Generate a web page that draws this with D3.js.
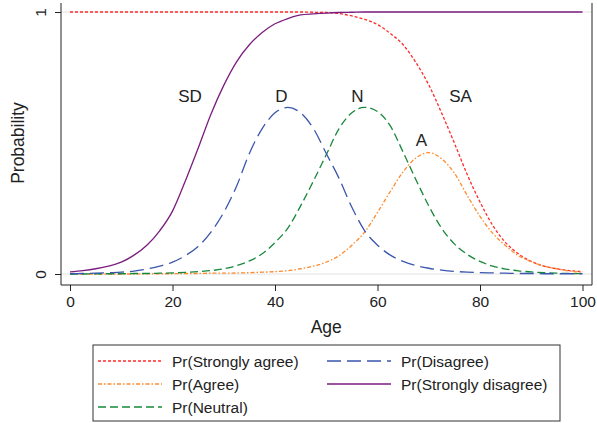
<!DOCTYPE html>
<html>
<head>
<meta charset="utf-8">
<script src="https://cdn.jsdelivr.net/npm/d3@7"></script>
<style>
  html, body { margin: 0; padding: 0; background: #fff; }
  svg { display: block; font-family: "Liberation Sans", Arial, sans-serif; }
</style>
</head>
<body>
<svg id="chart" width="597" height="423"></svg>
<script>
// Predicted probabilities of each response category by age
const ages = [0, 2.5, 5, 7.5, 10, 12.5, 15, 17.5, 20, 22.5, 25, 27.5, 30, 32.5, 35, 37.5, 40, 42.5, 45, 47.5,
              50, 52.5, 55, 57.5, 60, 62.5, 65, 67.5, 70, 72.5, 75, 77.5, 80, 82.5, 85, 87.5, 90, 92.5, 95, 97.5, 100];

const prStronglyAgree = [1, 1, 1, 1, 1, 1, 1, 1, 1, 1, 1, 1, 1, 1, 1, 1, 1, 1, 1, 0.999,
  0.998, 0.994, 0.985, 0.972, 0.952, 0.918, 0.875, 0.807, 0.722, 0.615, 0.50, 0.38, 0.275, 0.185, 0.12, 0.077, 0.048, 0.03, 0.02, 0.013, 0.009];

const prAgree = [0, 0, 0, 0, 0, 0, 0.001, 0.001, 0.001, 0.002, 0.002, 0.003, 0.003, 0.004, 0.005, 0.007, 0.009, 0.013, 0.02, 0.03,
  0.045, 0.07, 0.11, 0.16, 0.235, 0.315, 0.39, 0.443, 0.463, 0.44, 0.385, 0.30, 0.22, 0.155, 0.108, 0.07, 0.047, 0.03, 0.02, 0.011, 0.007];

const prNeutral = [0, 0, 0.001, 0.001, 0.001, 0.002, 0.002, 0.003, 0.004, 0.006, 0.009, 0.013, 0.02, 0.032, 0.05, 0.077, 0.12, 0.175, 0.26, 0.355,
  0.455, 0.555, 0.615, 0.636, 0.62, 0.565, 0.465, 0.36, 0.26, 0.175, 0.115, 0.075, 0.048, 0.03, 0.019, 0.012, 0.008, 0.005, 0.003, 0.002, 0.001];

const prDisagree = [0.001, 0.002, 0.003, 0.005, 0.007, 0.011, 0.019, 0.03, 0.045, 0.07, 0.105, 0.16, 0.235, 0.335, 0.46, 0.555, 0.615, 0.636, 0.615, 0.555,
  0.46, 0.365, 0.255, 0.165, 0.11, 0.072, 0.048, 0.032, 0.022, 0.015, 0.01, 0.007, 0.005, 0.004, 0.003, 0.002, 0.002, 0.001, 0.001, 0.001, 0.001];

const prStronglyDisagree = [0.008, 0.013, 0.02, 0.03, 0.045, 0.072, 0.11, 0.165, 0.24, 0.355, 0.48, 0.61, 0.72, 0.81, 0.875, 0.922, 0.955, 0.975, 0.989, 0.993,
  0.996, 0.998, 0.999, 1, 1, 1, 1, 1, 1, 1, 1, 1, 1, 1, 1, 1, 1, 1, 1, 1, 1];

const xTicks = [0, 20, 40, 60, 80, 100];
const yTicks = [0, 1];

const seriesNames = ["Pr(Strongly agree)", "Pr(Agree)", "Pr(Neutral)", "Pr(Disagree)", "Pr(Strongly disagree)"];
const curveLabels = ["SA", "A", "N", "D", "SD"];

const series = [
  { values: prStronglyAgree,    color: "#ff2b2b", dash: "3,2",       lx: 460.5, ly: 102 },
  { values: prAgree,            color: "#ff8a2a", dash: "4,2,1.5,2", lx: 421.5, ly: 146 },
  { values: prNeutral,          color: "#17883a", dash: "8,4",       lx: 357.5, ly: 102 },
  { values: prDisagree,         color: "#3a56ad", dash: "14,6",      lx: 281.5, ly: 102 },
  { values: prStronglyDisagree, color: "#7a1d7e", dash: null,        lx: 190,   ly: 102 }
].map((s, i) => ({ ...s, name: seriesNames[i], label: curveLabels[i] }));

const svg = d3.select("#chart");

// Plot region
const frame = { left: 61, right: 592, top: 3, bottom: 285 };
const x = d3.scaleLinear().domain([0, 100]).range([70, 582.5]);
const y = d3.scaleLinear().domain([0, 1]).range([274, 12]);

// Gridlines at the ticks
svg.append("g").selectAll("line").data(yTicks).join("line")
  .attr("x1", frame.left).attr("x2", frame.right)
  .attr("y1", d => y(d)).attr("y2", d => y(d))
  .attr("stroke", "#e2e2e2").attr("stroke-width", 1);

// Curves
const line = d3.line()
  .x((d, i) => x(ages[i]))
  .y(d => y(d))
  .curve(d3.curveMonotoneX);

svg.append("g").selectAll("path").data(series).join("path")
  .attr("d", d => line(d.values))
  .attr("fill", "none")
  .attr("stroke", d => d.color)
  .attr("stroke-width", 1.3)
  .attr("stroke-dasharray", d => d.dash);

// Curve labels
svg.append("g").selectAll("text").data(series).join("text")
  .attr("x", d => d.lx)
  .attr("y", d => d.ly)
  .attr("text-anchor", "middle")
  .attr("font-size", 17)
  .attr("fill", "#222")
  .text(d => d.label);

// Axis lines and right border
svg.append("line").attr("x1", frame.left).attr("x2", frame.left)
  .attr("y1", frame.top).attr("y2", frame.bottom)
  .attr("stroke", "#222").attr("stroke-width", 1);
svg.append("line").attr("x1", frame.left).attr("x2", frame.right)
  .attr("y1", frame.bottom).attr("y2", frame.bottom)
  .attr("stroke", "#222").attr("stroke-width", 1);
svg.append("line").attr("x1", frame.right).attr("x2", frame.right)
  .attr("y1", frame.top).attr("y2", frame.bottom)
  .attr("stroke", "#222").attr("stroke-width", 1);

const fontFam = "Liberation Sans, Arial, sans-serif";

// X axis
const xAxis = svg.append("g")
  .attr("transform", `translate(0,${frame.bottom})`)
  .call(d3.axisBottom(x).tickValues(xTicks).tickSize(6).tickPadding(5).tickFormat(d3.format("d")));
xAxis.select(".domain").remove();
xAxis.selectAll("line").attr("stroke", "#222");
xAxis.selectAll("text").attr("font-size", 15.5).attr("fill", "#222").attr("font-family", fontFam);

// Y axis with vertical tick labels
const yAxis = svg.append("g")
  .attr("transform", `translate(${frame.left},0)`)
  .call(d3.axisLeft(y).tickValues(yTicks).tickSize(6).tickFormat(d3.format("d")));
yAxis.select(".domain").remove();
yAxis.selectAll("line").attr("stroke", "#222");
yAxis.selectAll("text")
  .attr("font-size", 15.5).attr("fill", "#222").attr("font-family", fontFam)
  .attr("x", null).attr("dy", null)
  .attr("text-anchor", "middle")
  .attr("transform", "translate(-15.5,0) rotate(-90)")
  .attr("y", 0);

// Axis titles
svg.append("text").attr("x", (x(0) + x(100)) / 2).attr("y", 333)
  .attr("text-anchor", "middle").attr("font-size", 17.5).attr("fill", "#222").text("Age");
svg.append("text").attr("transform", `translate(24,${(y(0) + y(1)) / 2}) rotate(-90)`)
  .attr("text-anchor", "middle").attr("font-size", 17.5).attr("fill", "#222").text("Probability");

// Legend
const legend = svg.append("g");
legend.append("rect").attr("x", 93).attr("y", 345).attr("width", 467).attr("height", 76)
  .attr("fill", "#fff").attr("stroke", "#333").attr("stroke-width", 1);

const legendOrder = [
  { s: series[0], col: 0, row: 0 },
  { s: series[1], col: 0, row: 1 },
  { s: series[2], col: 0, row: 2 },
  { s: series[3], col: 1, row: 0 },
  { s: series[4], col: 1, row: 1 }
];
const colX = [98, 327];
const rowY = [361, 384, 407];

const items = legend.selectAll("g.item").data(legendOrder).join("g").attr("class", "item");
items.append("line")
  .attr("x1", d => colX[d.col]).attr("x2", d => colX[d.col] + 64)
  .attr("y1", d => rowY[d.row]).attr("y2", d => rowY[d.row])
  .attr("stroke", d => d.s.color).attr("stroke-width", 1.3)
  .attr("stroke-dasharray", d => d.s.dash);
items.append("text")
  .attr("x", d => colX[d.col] + 74).attr("y", d => rowY[d.row] + 5.5)
  .attr("font-size", 15.5).attr("fill", "#222")
  .text(d => d.s.name);
</script>
</body>
</html>
